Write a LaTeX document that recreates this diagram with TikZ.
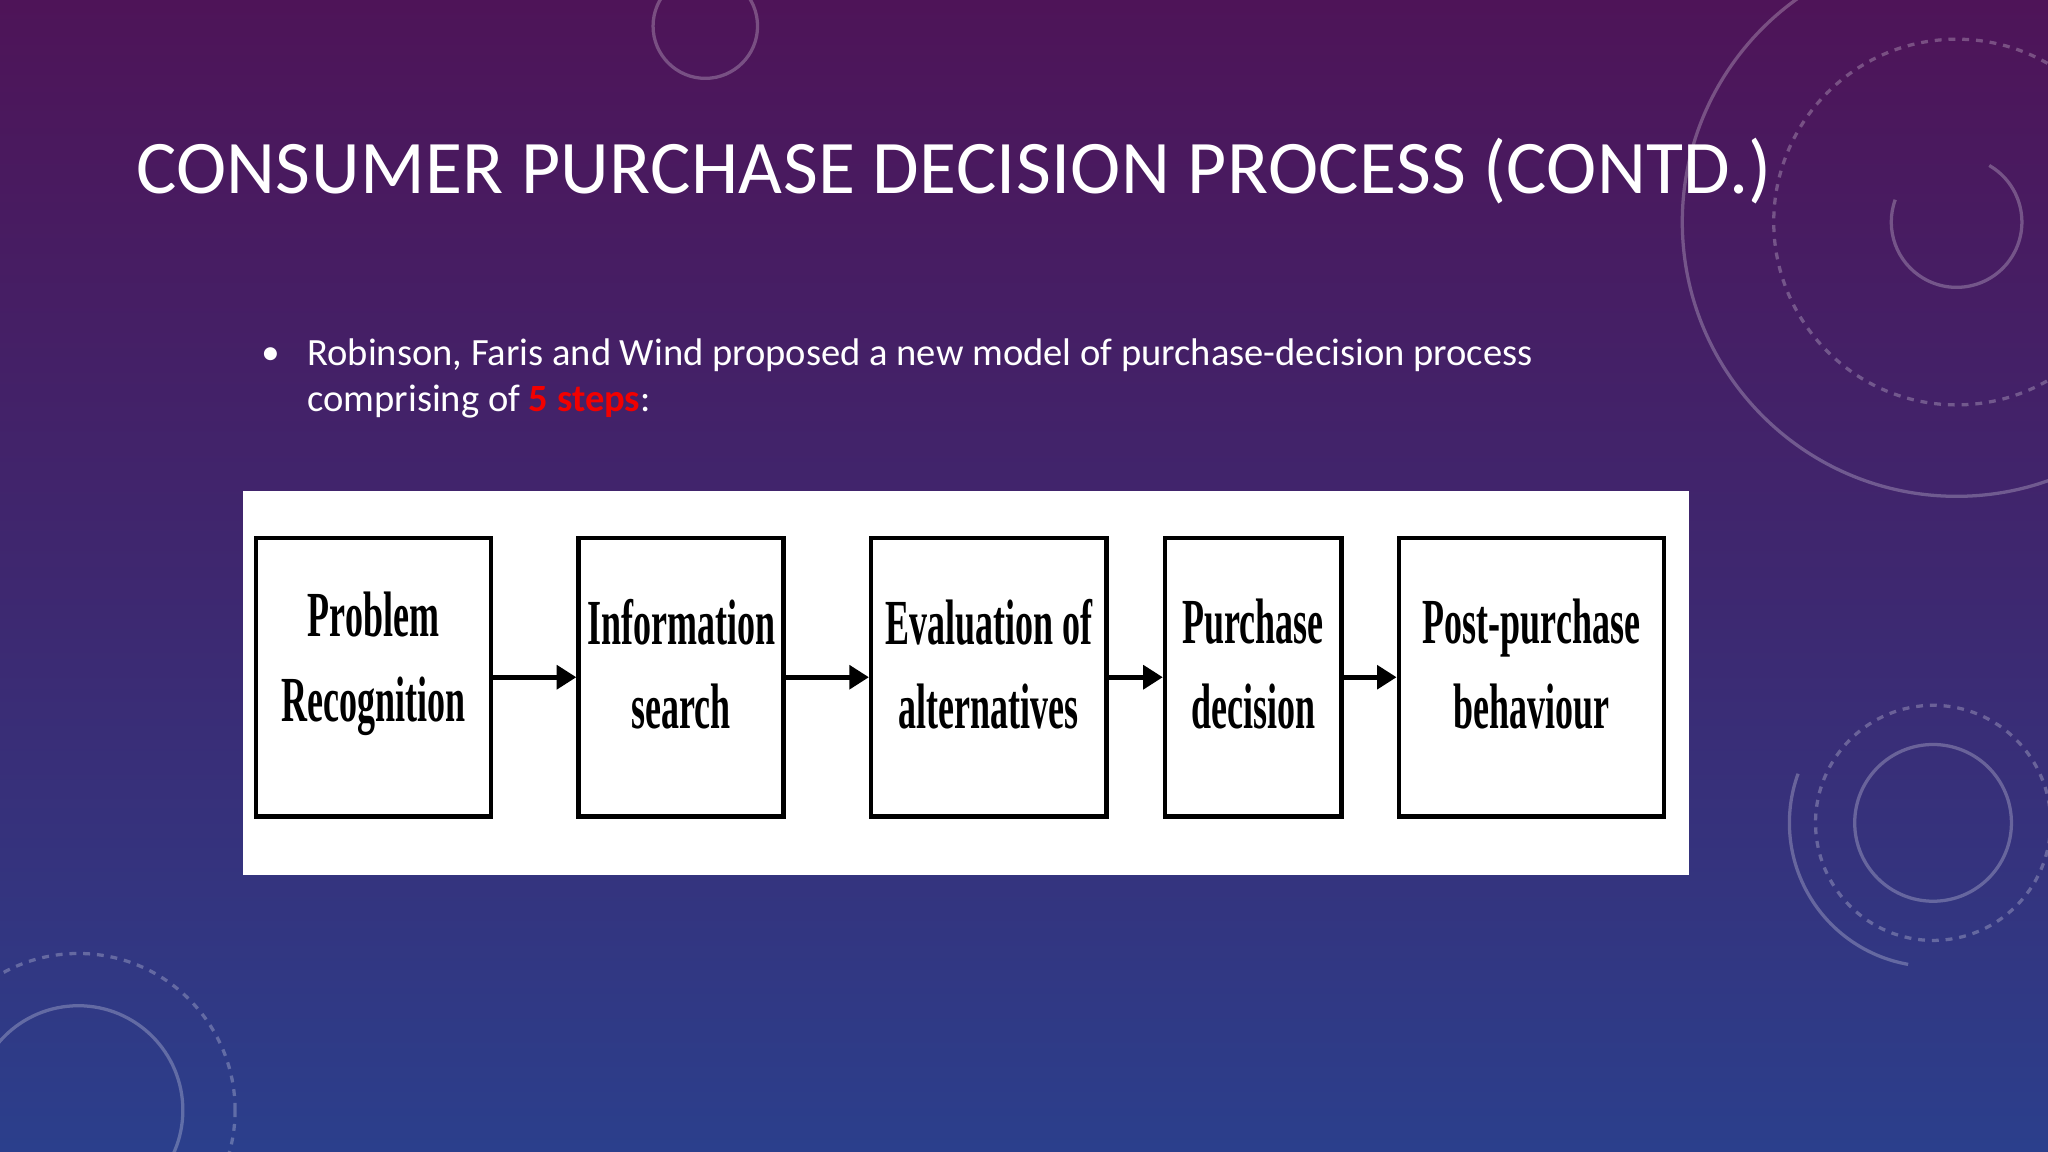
\documentclass[tikz,border=0pt]{standalone}
\usepackage{fontspec}
\setmainfont{Carlito}
\newfontfamily\boxfont{Liberation Serif}
\usetikzlibrary{arrows.meta}
\definecolor{bgtop}{HTML}{4E1458}
\definecolor{bgbot}{HTML}{2B3F8C}
\tikzset{
  stepbox/.style={draw=black,line width=0.07cm,fill=white,inner sep=0pt},
  flow/.style={line width=0.07cm,-{Triangle[length=0.3cm,width=0.36cm]}},
  deco/.style={draw=white,opacity=0.25,line width=0.05cm},
  boxtxt/.style={font=\boxfont\bfseries\fontsize{28}{37}\selectfont,align=center}
}
\newcommand{\sq}[1]{\scalebox{0.56}[1]{#1}}
\begin{document}
\begin{tikzpicture}[x=0.02cm,y=-0.02cm]
\shade[top color=bgtop,bottom color=bgbot,middle color=bgtop!55!bgbot] (0,0) rectangle (1568,882);
\useasboundingbox (0,0) rectangle (1568,882);
% decorations
\draw[deco] (1498,170) circle (210);
\draw[deco,dashed] (1498,170) circle (140);
\draw[deco] (1498,170) ++(-60:50) arc (-60:200:50);
\draw[deco] (1480,630) circle (60);
\draw[deco,dashed] (1480,630) circle (90);
\draw[deco] (1480,630) ++(100:110) arc (100:200:110);
\draw[deco] (540,20) circle (40);
\draw[deco] (60,850) circle (80);
\draw[deco,dashed] (60,850) circle (120);
% title
\node[anchor=west,text=white,font=\fontsize{33}{38}\selectfont\addfontfeature{LetterSpace=0.5}] (title) at (98,131) {CONSUMER PURCHASE DECISION PROCESS (CONTD.)};
% bullet
\node[anchor=west,text=white,font=\fontsize{16}{18}\selectfont] (bul) at (194,273) {•};
\node[anchor=north west,text=white,align=left,font=\fontsize{16.8}{20}\selectfont,inner sep=0pt] (txt) at (235,259)
 {Robinson, Faris and Wind proposed a new model of purchase-decision process\\comprising of {\color{red!95!black}\bfseries 5 steps}:};
% white panel
\fill[white] (186,376) rectangle (1293,670);
\node[stepbox,minimum width=180*0.02cm,minimum height=213*0.02cm] (b1) at (286,518.5) {};
\node[stepbox,minimum width=157*0.02cm,minimum height=213*0.02cm] (b2) at (521.5,518.5) {};
\node[stepbox,minimum width=180*0.02cm,minimum height=213*0.02cm] (b3) at (757,518.5) {};
\node[stepbox,minimum width=135*0.02cm,minimum height=213*0.02cm] (b4) at (959.5,518.5) {};
\node[stepbox,minimum width=203*0.02cm,minimum height=213*0.02cm] (b5) at (1172.5,518.5) {};
\node[boxtxt] (t1) at ([yshift=0.2cm]b1) {\sq{Problem}\\\sq{Recognition}};
\node[boxtxt] (t2) at ([yshift=0.2cm]b2) {\sq{Information}\\\sq{search}};
\node[boxtxt] (t3) at ([yshift=0.2cm]b3) {\sq{Evaluation of}\\\sq{alternatives}};
\node[boxtxt] (t4) at ([yshift=0.2cm]b4) {\sq{Purchase}\\\sq{decision}};
\node[boxtxt] (t5) at ([yshift=0.2cm]b5) {\sq{Post-purchase}\\\sq{behaviour}};
\draw[flow] (b1) -- (b2);
\draw[flow] (b2) -- (b3);
\draw[flow] (b3) -- (b4);
\draw[flow] (b4) -- (b5);
\end{tikzpicture}
\end{document}
